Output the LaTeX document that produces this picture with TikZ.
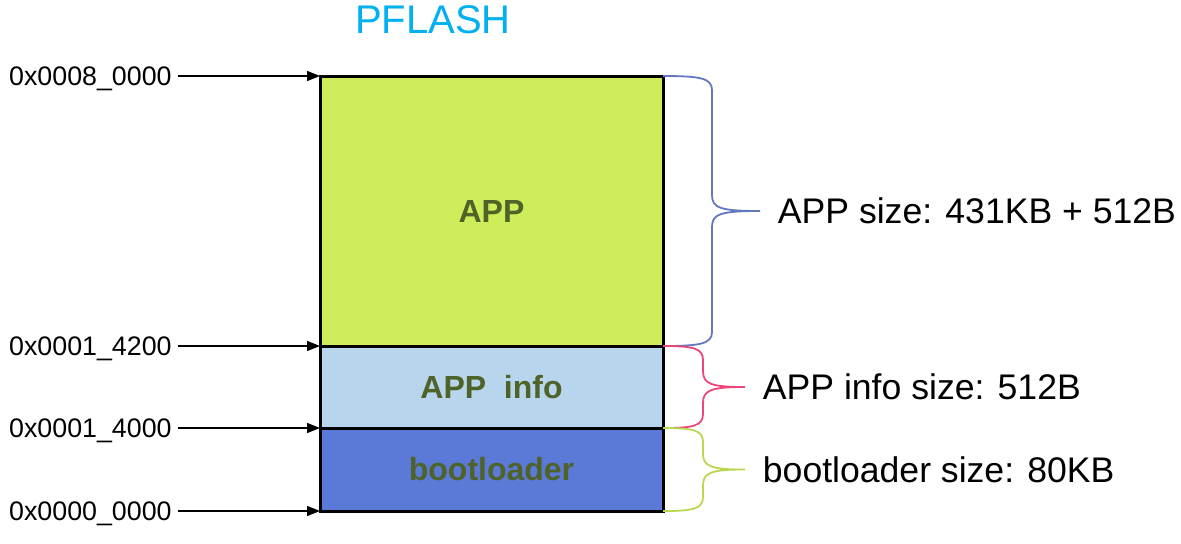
\documentclass[tikz,border=0pt]{standalone}
\usepackage{fontspec}
\setmainfont{Liberation Sans}
\usetikzlibrary{arrows.meta,positioning,calc}

\definecolor{titlecyan}{RGB}{0,176,240}
\definecolor{appgreen}{RGB}{207,236,90}
\definecolor{infoblue}{RGB}{184,213,238}
\definecolor{bootblue}{RGB}{91,122,216}
\definecolor{olivetext}{RGB}{79,98,40}
\definecolor{bracebl}{RGB}{100,120,190}
\definecolor{bracepk}{RGB}{235,70,120}
\definecolor{bracegn}{RGB}{185,215,80}

% brace: style, top, bottom, bend, tip, label name, label text
\newcommand{\sizebrace}[7]{%
  \draw[#1] let \p1=(#2), \p2=(#3), \p3=($(#2)!0.5!(#3)$) in
    (\p1) .. controls (\x1+0.75*#4,\y1) and (\x1+#4,\y1-1pt) .. (\x1+#4,\y1-7pt)
    -- (\x1+#4,\y3+8pt) .. controls (\x1+#4,\y3+1.5pt) and (\x1+#4+4pt,\y3) .. (\x1+#5,\y3)
    .. controls (\x1+#4+4pt,\y3) and (\x1+#4,\y3-1.5pt) .. (\x1+#4,\y3-8pt)
    -- (\x1+#4,\y2+7pt) .. controls (\x1+#4,\y2+1pt) and (\x1+0.75*#4,\y2) .. (\p2)
    node[sizelabel] (#6) at (\x1+#5+8.5pt,\y3) {#7};}

\begin{document}
\begin{tikzpicture}[
    x=0.5pt, y=-0.5pt,
    region/.style={rectangle, draw=black, line width=1.5pt, inner sep=0pt, outer sep=0pt,
      minimum width=171.5pt, font=\fontsize{16}{19}\selectfont\bfseries, text=olivetext},
    addr/.style={inner sep=0pt, inner xsep=3pt, anchor=east, yshift=-1.5pt, font=\fontsize{13.4}{16}\selectfont},
    addrarrow/.style={-{Triangle[length=6.5pt,width=5pt]}, line width=0.6pt},
    sizelabel/.style={inner sep=0pt, anchor=west, text=black, font=\fontsize{17.8}{21}\selectfont},
    bracepath/.style={line width=0.9pt}
]
\useasboundingbox (0,0) rectangle (1181,543);

% title
\node[text=titlecyan, font=\fontsize{20}{24}\selectfont] (title) at (433,20) {PFLASH};

% memory regions
\node[region, fill=appgreen, minimum height=135pt] (app) at (491.5,211) {APP};
\node[region, fill=infoblue, minimum height=41pt, below=0pt of app] (info) {APP\ \ info};
\node[region, fill=bootblue, minimum height=41.5pt, below=0pt of info] (boot) {bootloader};

% addresses
\node[addr] (a80000) at ([xshift=-71pt]app.north west) {0x0008\_0000};
\node[addr] (a14200) at ([xshift=-71pt]info.north west) {0x0001\_4200};
\node[addr] (a14000) at ([xshift=-71pt]boot.north west) {0x0001\_4000};
\node[addr] (a00000) at ([xshift=-71pt]boot.south west) {0x0000\_0000};

\draw[addrarrow] (a80000.east |- app.north west) -- (app.north west);
\draw[addrarrow] (a14200.east |- info.north west) -- (info.north west);
\draw[addrarrow] (a14000.east |- boot.north west) -- (boot.north west);
\draw[addrarrow] (a00000.east |- boot.south west) -- (boot.south west);

% size braces
\sizebrace{bracepath, bracebl}{app.north east}{app.south east}{24.5pt}{48.5pt}{appsize}{APP size: 431KB + 512B}
\sizebrace{bracepath, bracepk}{info.north east}{info.south east}{20pt}{41pt}{infosize}{APP info size: 512B}
\sizebrace{bracepath, bracegn}{boot.north east}{boot.south east}{20pt}{41pt}{bootsize}{bootloader size: 80KB}

\end{tikzpicture}
\end{document}
